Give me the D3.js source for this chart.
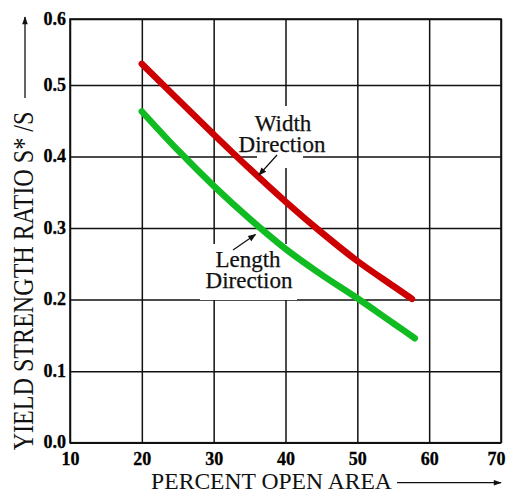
<!DOCTYPE html>
<html><head><meta charset="utf-8">
<script src="https://cdn.jsdelivr.net/npm/d3@7"></script>
<style>
html,body{margin:0;padding:0;background:#fff;}
svg{display:block;}
</style></head>
<body>
<script>
// ---- data ----
const xTicks = [10, 20, 30, 40, 50, 60, 70];
const yTicks = [0.0, 0.1, 0.2, 0.3, 0.4, 0.5, 0.6];
const widthX = [20, 25, 30, 35, 40, 45, 50, 55, 57.6];
const widthY = [0.532, 0.480, 0.431, 0.383, 0.337, 0.294, 0.254, 0.219, 0.201];
const lengthX = [20, 25, 30, 35, 40, 45, 50, 55, 58];
const lengthY = [0.463, 0.409, 0.359, 0.313, 0.271, 0.235, 0.202, 0.167, 0.146];
const xTitle = "PERCENT OPEN AREA";
const yTitle = "YIELD STRENGTH RATIO S* /S";
const labelWidth = ["Width", "Direction"];
const labelLength = ["Length", "Direction"];

const SERIF = '"Liberation Serif","Times New Roman",Tinos,Times,"Noto Serif","DejaVu Serif",FreeSerif,serif';
const W = 506, H = 494;
const svg = d3.select("body").append("svg").attr("width", W).attr("height", H)
  .style("font-family", SERIF);

const x = d3.scaleLinear().domain([10, 70]).range([70, 501]);
const y = d3.scaleLinear().domain([0, 0.5, 0.6]).range([442.7, 85, 19]);

// grid via axes
const gx = svg.append("g").attr("transform", `translate(0,${y(0)})`)
  .call(d3.axisBottom(x).tickValues(xTicks).tickSize(-(y(0) - y(0.6))).tickFormat(d3.format("d")));
const gy = svg.append("g").attr("transform", `translate(${x(10)},0)`)
  .call(d3.axisLeft(y).tickValues(yTicks).tickSize(-(x(70) - x(10))).tickFormat(d3.format(".1f")));
[gx, gy].forEach(g => {
  g.attr("font-family", null).style("font-family", SERIF);
  g.select(".domain").remove();
  g.selectAll(".tick line").attr("stroke", "#111").attr("stroke-width", 1.5);
  g.selectAll(".tick text").attr("fill", "#000").attr("font-weight", "bold")
    .attr("font-size", 18).attr("stroke", "#000").attr("stroke-width", 0.3).style("font-family", SERIF);
});
gx.selectAll(".tick text").attr("y", 0).attr("dy", 0)
  .attr("transform", d => `translate(${d === 70 ? -5 : 0},22)`);
gy.selectAll(".tick text").attr("x", -4).attr("dy", 0).attr("y", 5);

// frame
svg.append("rect").attr("x", x(10)).attr("y", y(0.6))
  .attr("width", x(70) - x(10)).attr("height", y(0) - y(0.6))
  .attr("fill", "none").attr("stroke", "#111").attr("stroke-width", 1.6);

// white boxes behind annotations
svg.append("rect").attr("x", 257).attr("y", 106).attr("width", 46).attr("height", 62).attr("fill", "#fff");
svg.append("rect").attr("x", 200).attr("y", 244).attr("width", 97).attr("height", 56).attr("fill", "#fff");

// curves
const line = d3.line().x(d => x(d[0])).y(d => y(d[1])).curve(d3.curveMonotoneX);
svg.append("path").datum(widthX.map((v, i) => [v, widthY[i]])).attr("d", line)
  .attr("fill", "none").attr("stroke", "#cc0000").attr("stroke-width", 6.5).attr("stroke-linecap", "round");
svg.append("path").datum(lengthX.map((v, i) => [v, lengthY[i]])).attr("d", line)
  .attr("fill", "none").attr("stroke", "#11bb22").attr("stroke-width", 6.5).attr("stroke-linecap", "round");

// arrow marker
const defs = svg.append("defs");
defs.append("marker").attr("id", "ah").attr("viewBox", "0 0 10 10").attr("refX", 9).attr("refY", 5)
  .attr("markerWidth", 10).attr("markerHeight", 8).attr("markerUnits", "userSpaceOnUse").attr("orient", "auto")
  .append("path").attr("d", "M0,1 L10,5 L0,9 Z").attr("fill", "#111");
defs.append("marker").attr("id", "ah2").attr("viewBox", "0 0 10 10").attr("refX", 9).attr("refY", 5)
  .attr("markerWidth", 14).attr("markerHeight", 8).attr("markerUnits", "userSpaceOnUse").attr("orient", "auto")
  .append("path").attr("d", "M0,1.5 L10,5 L0,8.5 Z").attr("fill", "#111");

// annotation text
const ann = svg.append("g").attr("font-size", 23).attr("fill", "#111").attr("text-anchor", "middle")
  .attr("stroke", "#111").attr("stroke-width", 0.25).style("font-family", SERIF);
ann.append("text").attr("x", 283).attr("y", 131).text(labelWidth[0]);
ann.append("text").attr("x", 282).attr("y", 151.7).text(labelWidth[1]);
ann.append("text").attr("x", 248).attr("y", 267.3).text(labelLength[0]);
ann.append("text").attr("x", 249).attr("y", 288.3).text(labelLength[1]);

svg.append("line").attr("x1", 277).attr("y1", 155).attr("x2", 259).attr("y2", 175)
  .attr("stroke", "#111").attr("stroke-width", 1.2).attr("marker-end", "url(#ah)");
svg.append("line").attr("x1", 233).attr("y1", 250).attr("x2", 255.5).attr("y2", 234.5)
  .attr("stroke", "#111").attr("stroke-width", 1.2).attr("marker-end", "url(#ah)");

// axis titles
svg.append("text").attr("x", 271.5).attr("y", 489).attr("text-anchor", "middle")
  .attr("font-size", 23.6).attr("fill", "#111").style("font-family", SERIF).text(xTitle);
svg.append("line").attr("x1", 397).attr("y1", 482.7).attr("x2", 501).attr("y2", 482.7)
  .attr("stroke", "#111").attr("stroke-width", 1.3).attr("marker-end", "url(#ah2)");

svg.append("text").attr("transform", "translate(33,281) rotate(-90) scale(1,1.22)").attr("text-anchor", "middle")
  .attr("font-size", 24.1).attr("fill", "#111").style("font-family", SERIF).text(yTitle);
svg.append("line").attr("x1", 25).attr("y1", 98).attr("x2", 25).attr("y2", 17)
  .attr("stroke", "#111").attr("stroke-width", 1.3).attr("marker-end", "url(#ah2)");
</script>
</body></html>
